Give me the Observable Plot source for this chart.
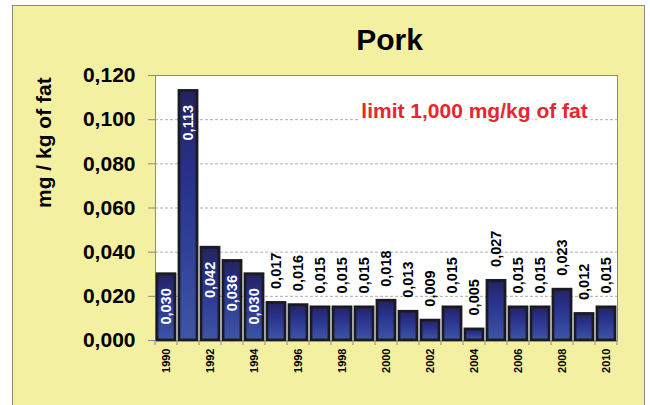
<!DOCTYPE html>
<html><head><meta charset="utf-8">
<script src="https://cdn.jsdelivr.net/npm/d3@7"></script>
<script src="https://cdn.jsdelivr.net/npm/@observablehq/plot@0.6"></script>
<style>
html,body{margin:0;padding:0;background:#fff;}
#wrap{position:relative;width:650px;height:405px;overflow:hidden;}
#panel{position:absolute;left:12px;top:5px;width:631px;height:410px;background:#f4f0a2;border:1px solid #8a8a80;}
#chart{position:absolute;left:0;top:0;}
#chart svg, #chart svg text{font-family:"Liberation Sans", Arial, Helvetica, sans-serif !important;}
</style></head><body>
<div id="wrap"><div id="panel"></div><div id="chart"></div></div>
<script>
const years = [1990,1991,1992,1993,1994,1995,1996,1997,1998,1999,2000,2001,2002,2003,2004,2005,2006,2007,2008,2009,2010];
const values = [0.030,0.113,0.042,0.036,0.030,0.017,0.016,0.015,0.015,0.015,0.018,0.013,0.009,0.015,0.005,0.027,0.015,0.015,0.023,0.012,0.015];
const yTicks = [0,0.02,0.04,0.06,0.08,0.10,0.12];
const title = "Pork";
const yLabel = "mg / kg of fat";
const note = "limit 1,000 mg/kg of fat";

const data = years.map((year, i) => ({year, value: values[i]}));
const fmt = v => v.toFixed(3).replace(".", ",");

const svg = Plot.plot({
  width: 650, height: 405,
  marginLeft: 155, marginRight: 33, marginTop: 75, marginBottom: 65,
  style: {background: "transparent", overflow: "visible", color: "black"},
  x: {type: "band", domain: years, paddingInner: 0.18, paddingOuter: 0.09},
  y: {domain: [0, 0.12]},
  marks: [
    Plot.frame({fill: "white"}),
    Plot.gridY(yTicks.slice(1, -1), {stroke: "#9a9a9a", strokeOpacity: 0.8, strokeDasharray: "3,2"}),
    Plot.text([note], {text: d => d, frameAnchor: "top", dx: 88, dy: 42, lineAnchor: "bottom", fill: "#e8262d", fontSize: 21, fontWeight: "bold", stroke: "white", strokeWidth: 7, paintOrder: "stroke"}),
    Plot.frame({stroke: "#8a8a8a"}),
    Plot.barY(data, {x: "year", y: "value", fill: "url(#barGrad)", stroke: "#1a1a22", strokeWidth: 2.8}),
    Plot.axisY(yTicks, {tickFormat: fmt, tickSize: 7, tickPadding: 13, fontSize: 21, fontWeight: "bold", label: null, stroke: "#888", fill: "black"}),
    Plot.axisX(years, {tickFormat: d => d % 2 === 0 ? String(d) : "", tickSize: 0, tickRotate: -90, tickPadding: 8, fontSize: 11, fontWeight: "bold", label: null, fill: "black"}),
    Plot.text(data.filter(d => d.value >= 0.03), {x: "year", y: "value", text: d => fmt(d.value), rotate: -90, textAnchor: "end", dy: 14, fill: "white", fontSize: 14.5, fontWeight: "bold"}),
    Plot.text(data.filter(d => d.value < 0.03), {x: "year", y: "value", text: d => fmt(d.value), rotate: -90, textAnchor: "start", dy: -14, fill: "black", fontSize: 14.5, fontWeight: "bold"}),
    Plot.text([title], {text: d => d, frameAnchor: "top", dx: 3, dy: -26, lineAnchor: "bottom", fontSize: 30, fontWeight: "bold", fill: "black"}),
    Plot.text([yLabel], {text: d => d, frameAnchor: "left", dx: -111, rotate: -90, fontSize: 21, fontWeight: "bold", fill: "black"})
  ]
});

// tick marks on the x axis at band boundaries, placed through the x scale
const xs = svg.scale("x");
const root = d3.select(svg);
const half = (xs.step - xs.bandwidth) / 2;
const tickG = root.append("g").attr("stroke", "#888");
years.forEach(y => {
  const px = xs.apply(y) - half;
  tickG.append("line").attr("x1", px).attr("x2", px).attr("y1", 340).attr("y2", 345);
});
const lastPx = xs.apply(years[years.length - 1]) + xs.bandwidth + half;
tickG.append("line").attr("x1", lastPx).attr("x2", lastPx).attr("y1", 340).attr("y2", 345);

const defs = root.insert("defs", ":first-child");
const grad = defs.append("linearGradient").attr("id", "barGrad").attr("x1", 0).attr("y1", 0).attr("x2", 0).attr("y2", 1);
grad.append("stop").attr("offset", "0%").attr("stop-color", "#25235e");
grad.append("stop").attr("offset", "35%").attr("stop-color", "#28318c");
grad.append("stop").attr("offset", "100%").attr("stop-color", "#3e55a6");

document.getElementById("chart").appendChild(svg);
</script>
</body></html>
